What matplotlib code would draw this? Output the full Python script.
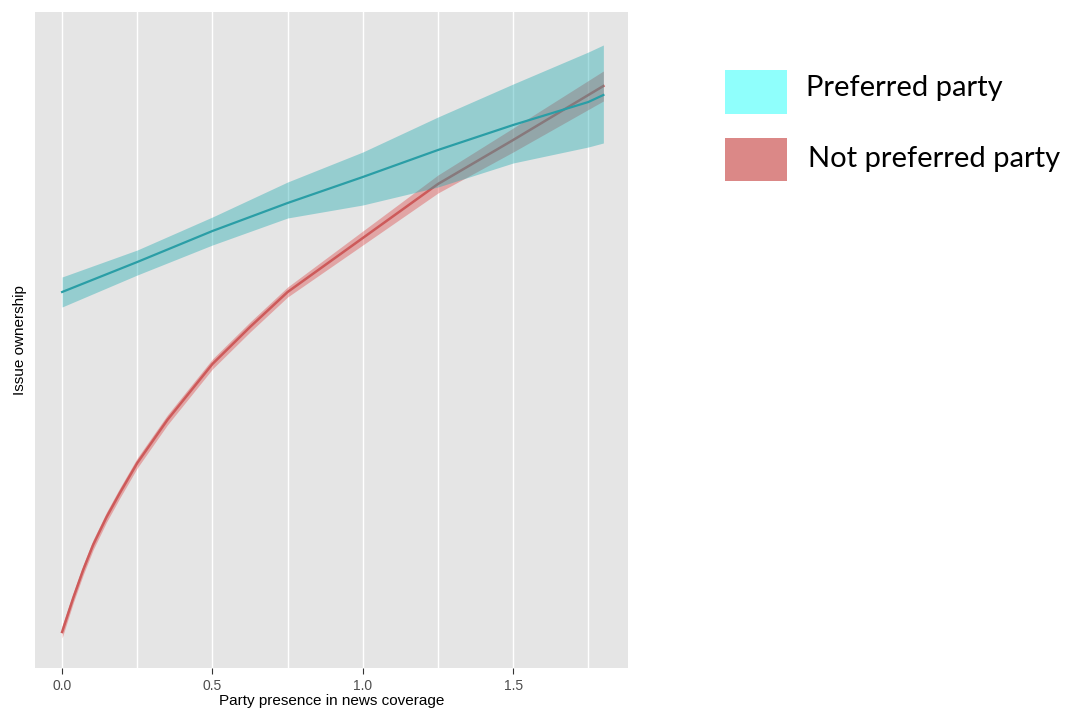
import matplotlib.pyplot as plt
from matplotlib.patches import Rectangle

# values (y axis has no scale, units are arbitrary)
x_pref = [0.0, 0.25, 0.5, 0.75, 1.0, 1.25, 1.5, 1.75, 1.8]
pref_fit = [3.76, 4.06, 4.37, 4.65, 4.91, 5.18, 5.43, 5.66, 5.73]
pref_hi = [3.91, 4.18, 4.51, 4.86, 5.16, 5.51, 5.84, 6.16, 6.23]
pref_lo = [3.61, 3.93, 4.23, 4.50, 4.63, 4.81, 5.05, 5.21, 5.25]

x_not = [0.0, 0.037, 0.07, 0.103, 0.148, 0.192, 0.25, 0.35, 0.5, 0.625, 0.75, 0.875, 1.0, 1.25, 1.5, 1.8]
not_fit = [0.36, 0.70, 0.98, 1.23, 1.51, 1.75, 2.05, 2.48, 3.04, 3.41, 3.76, 4.03, 4.30, 4.84, 5.28, 5.82]
not_hi = [0.42, 0.75, 1.03, 1.28, 1.56, 1.80, 2.10, 2.53, 3.09, 3.46, 3.81, 4.09, 4.37, 4.93, 5.40, 5.97]
not_lo = [0.30, 0.65, 0.93, 1.18, 1.46, 1.70, 2.00, 2.43, 2.99, 3.36, 3.71, 3.97, 4.23, 4.75, 5.16, 5.67]

x_ticks = [0.0, 0.5, 1.0, 1.5]
x_tick_labels = ["0.0", "0.5", "1.0", "1.5"]
legend_labels = ["Preferred party", "Not preferred party"]

plt.rcParams['font.family'] = ['Liberation Sans', 'DejaVu Sans']

fig = plt.figure(figsize=(10.65, 7.1), dpi=100)
ax = fig.add_axes([0.0329, 0.0592, 0.5568, 0.9239])
ax.set_facecolor('#E5E5E5')

# red first, teal ribbon goes over it (that gives the grey overlap)
ax.fill_between(x_not, not_lo, not_hi, color='#DC4646', alpha=0.4, linewidth=0, zorder=2)
ax.plot(x_not, not_fit, color='#CD5A5A', linewidth=1.8, zorder=3)
ax.fill_between(x_pref, pref_lo, pref_hi, color='#1FA9B0', alpha=0.4, linewidth=0, zorder=4)
ax.plot(x_pref, pref_fit, color='#2A9EA6', linewidth=1.6, zorder=5)

ax.set_xlim(-0.09, 1.882)
ax.set_ylim(0, 6.56)

ax.set_xticks(x_ticks)
ax.set_xticklabels(x_tick_labels)
ax.set_xticks([0.25, 0.75, 1.25, 1.75], minor=True)
ax.tick_params(axis='x', which='major', length=4, color='#333333', labelcolor='#4D4D4D',
               labelsize=10, pad=4)
ax.tick_params(axis='x', which='minor', length=0)
ax.set_yticks([])
ax.grid(True, axis='x', which='both', color='white', linewidth=1)
ax.set_axisbelow(True)
for s in ax.spines.values():
    s.set_visible(False)

ax.set_xlabel("Party presence in news coverage", fontsize=11, labelpad=1)
ax.set_ylabel("Issue ownership", fontsize=11, labelpad=6)

# legend drawn by hand, big boxes to the right of the panel
fig.add_artist(Rectangle((0.6808, 0.8394), 0.0582, 0.062, transform=fig.transFigure,
                         color='#8FFFFC', linewidth=0))
fig.add_artist(Rectangle((0.6808, 0.745), 0.0582, 0.0606, transform=fig.transFigure,
                         color='#DB8887', linewidth=0))
fig.text(0.757, 0.876, legend_labels[0], fontsize=21, family='Lato', va='center')
fig.text(0.759, 0.776, legend_labels[1], fontsize=21, family='Lato', va='center')

fig.savefig('out.png', dpi=100)
